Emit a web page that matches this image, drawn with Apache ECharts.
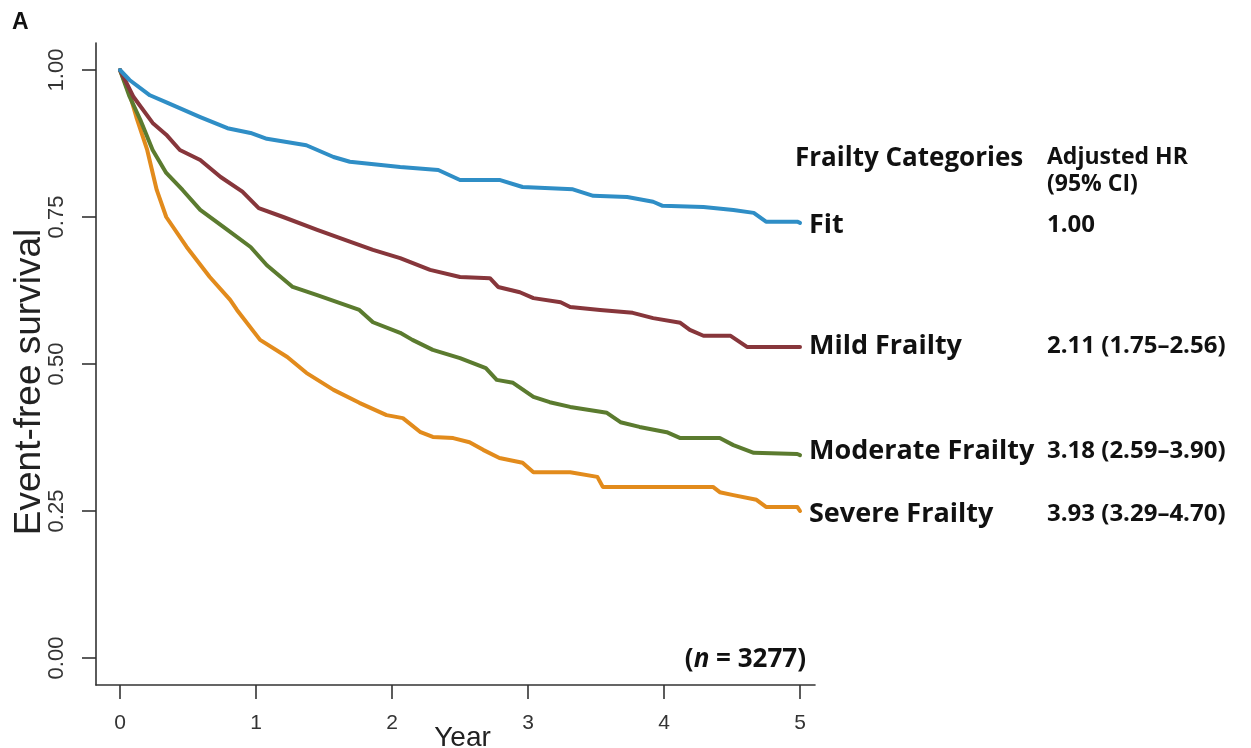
<!DOCTYPE html>
<html>
<head>
<meta charset="utf-8">
<title>Event-free survival by frailty category</title>
<script src="https://cdn.jsdelivr.net/npm/echarts@6.0.0/dist/echarts.min.js"></script>
<style>
  html, body { margin: 0; padding: 0; background: #ffffff; }
  #chart { width: 1251px; height: 748px; }
</style>
</head>
<body>
<div id="chart"></div>
<script>
// Kaplan–Meier estimates (years, survival) per frailty group
const fitYears = [0, 0.07, 0.22, 0.35, 0.59, 0.79, 0.96, 1.08, 1.37, 1.57, 1.69, 2.06, 2.34, 2.5, 2.79, 2.96, 3.33, 3.48, 3.73, 3.92, 3.99, 4.29, 4.51, 4.66, 4.75, 4.98, 5.0];
const fitSurv  = [1, 0.983, 0.957, 0.944, 0.920, 0.901, 0.893, 0.883, 0.872, 0.852, 0.844, 0.835, 0.830, 0.813, 0.813, 0.801, 0.797, 0.786, 0.784, 0.776, 0.769, 0.767, 0.762, 0.757, 0.742, 0.742, 0.740];

const mildYears = [0, 0.1, 0.24, 0.34, 0.44, 0.59, 0.74, 0.9, 1.02, 1.2, 1.45, 1.69, 1.86, 2.06, 2.28, 2.5, 2.72, 2.78, 2.94, 3.04, 3.24, 3.31, 3.53, 3.77, 3.92, 4.12, 4.19, 4.29, 4.49, 4.61, 5.0];
const mildSurv  = [1, 0.954, 0.91, 0.89, 0.864, 0.847, 0.818, 0.793, 0.765, 0.75, 0.728, 0.708, 0.694, 0.68, 0.66, 0.648, 0.646, 0.631, 0.622, 0.612, 0.605, 0.597, 0.592, 0.587, 0.578, 0.57, 0.558, 0.548, 0.548, 0.529, 0.529];

const moderateYears = [0, 0.07, 0.15, 0.24, 0.34, 0.46, 0.59, 0.79, 0.96, 1.08, 1.27, 1.45, 1.76, 1.86, 2.06, 2.15, 2.3, 2.5, 2.69, 2.77, 2.89, 3.04, 3.16, 3.31, 3.58, 3.68, 3.82, 4.02, 4.12, 4.41, 4.51, 4.66, 4.98, 5.0];
const moderateSurv  = [1, 0.955, 0.915, 0.864, 0.825, 0.796, 0.762, 0.728, 0.699, 0.668, 0.631, 0.617, 0.592, 0.571, 0.553, 0.541, 0.524, 0.51, 0.493, 0.473, 0.468, 0.444, 0.435, 0.427, 0.417, 0.401, 0.393, 0.384, 0.374, 0.374, 0.362, 0.349, 0.347, 0.345];

const severeYears = [0, 0.07, 0.12, 0.2, 0.27, 0.34, 0.49, 0.66, 0.81, 0.86, 1.03, 1.23, 1.37, 1.57, 1.76, 1.96, 2.08, 2.21, 2.3, 2.45, 2.57, 2.67, 2.79, 2.96, 3.04, 3.31, 3.51, 3.55, 4.36, 4.41, 4.51, 4.68, 4.75, 4.98, 5.0];
const severeSurv  = [1, 0.96, 0.92, 0.864, 0.796, 0.75, 0.699, 0.648, 0.609, 0.592, 0.541, 0.512, 0.485, 0.456, 0.434, 0.413, 0.408, 0.384, 0.376, 0.374, 0.367, 0.354, 0.34, 0.332, 0.316, 0.316, 0.308, 0.291, 0.291, 0.282, 0.277, 0.269, 0.257, 0.257, 0.25];

const groupNames = ['Fit', 'Mild Frailty', 'Moderate Frailty', 'Severe Frailty'];
const hrLabels   = ['1.00', '2.11 (1.75–2.56)', '3.18 (2.59–3.90)', '3.93 (3.29–4.70)'];
const groupColors = ['#2f8ec6', '#87363b', '#5b7b2f', '#e28b1c'];

const xTicks = [0, 1, 2, 3, 4, 5];
const yTicks = [0, 0.25, 0.5, 0.75, 1];

const groupYears = [fitYears, mildYears, moderateYears, severeYears];
const groupSurv  = [fitSurv, mildSurv, moderateSurv, severeSurv];

// plot frame (pixels): y axis at x=96, x axis at y=685
const plotLeft = 96, plotRight = 815, plotTop = 43, plotBottom = 685;
// x: year 0 at px 120, 136 px per year; y: 1.00 at px 70, 588 px per unit
const xMin = -(120 - plotLeft) / 136;
const xMax = 5 + (plotRight - 800) / 136;
const yMin = -(plotBottom - 658) / 588;
const yMax = 1 + (70 - plotTop) / 588;

const labelFont = '"Open Sans", Lato, sans-serif';
const axisFont = '"Liberation Sans", Arial, sans-serif';
const labelRowsY = [225, 346, 451, 514];

const series = groupNames.map((name, i) => ({
  name: name,
  type: 'line',
  data: groupYears[i].map((t, k) => [t, groupSurv[i][k]]),
  showSymbol: false,
  symbol: 'none',
  lineStyle: { color: groupColors[i], width: 4, join: 'round', cap: 'round' },
  itemStyle: { color: groupColors[i] },
  z: 10 - i,
  animation: false
}));

const graphics = [];
graphics.push({
  type: 'text', left: 12, top: 11,
  style: { text: 'A', font: 'bold 23px ' + axisFont, fill: '#111' }
});
graphics.push({
  type: 'text', x: 795, y: 159,
  style: { text: 'Frailty Categories', font: 'bold 26px ' + labelFont, fill: '#111', verticalAlign: 'middle' }
});
graphics.push({
  type: 'text', x: 1047, y: 157,
  style: { text: 'Adjusted HR', font: 'bold 23px ' + labelFont, fill: '#111', verticalAlign: 'middle' }
});
graphics.push({
  type: 'text', x: 1047, y: 184,
  style: { text: '(95% CI)', font: 'bold 23px ' + labelFont, fill: '#111', verticalAlign: 'middle' }
});
groupNames.forEach((name, i) => {
  graphics.push({
    type: 'text', x: 809, y: labelRowsY[i],
    style: { text: name, font: 'bold 27px ' + labelFont, fill: '#111', verticalAlign: 'middle' }
  });
  graphics.push({
    type: 'text', x: 1047, y: labelRowsY[i],
    style: { text: hrLabels[i], font: 'bold 24px ' + labelFont, fill: '#111', verticalAlign: 'middle' }
  });
});
graphics.push({
  type: 'text', x: 806, y: 660,
  style: {
    text: '{p|(}{i|n}{p| = 3277)}',
    align: 'right', verticalAlign: 'middle',
    rich: {
      p: { font: 'bold 26px ' + labelFont, fill: '#111' },
      i: { font: 'italic bold 26px ' + labelFont, fill: '#111' }
    }
  }
});

const option = {
  backgroundColor: '#ffffff',
  animation: false,
  grid: {
    left: plotLeft, top: plotTop,
    width: plotRight - plotLeft, height: plotBottom - plotTop,
    containLabel: false,
    outerBoundsMode: 'none'
  },
  xAxis: {
    type: 'value',
    min: xMin, max: xMax,
    name: 'Year',
    nameLocation: 'middle',
    nameGap: 39,
    nameMoveOverlap: false,
    nameTextStyle: { fontFamily: axisFont, fontSize: 28, color: '#222', padding: [0, 0, 0, 14] },
    axisLine: { show: true, onZero: false, lineStyle: { color: '#333', width: 1.6 } },
    axisTick: { show: true, inside: false, length: 14, customValues: xTicks, lineStyle: { color: '#333', width: 1.6 } },
    axisLabel: {
      customValues: xTicks, margin: 28,
      fontFamily: axisFont, fontSize: 21, color: '#333',
      formatter: v => String(Math.round(v))
    },
    splitLine: { show: false }
  },
  yAxis: {
    type: 'value',
    min: yMin, max: yMax,
    name: 'Event-free survival',
    nameLocation: 'middle',
    nameRotate: 90,
    nameGap: 48,
    nameMoveOverlap: false,
    nameTextStyle: { fontFamily: axisFont, fontSize: 37, color: '#222', padding: [0, 36, 0, 0] },
    axisLine: { show: true, onZero: false, lineStyle: { color: '#333', width: 1.6 } },
    axisTick: { show: true, inside: false, length: 14, customValues: yTicks, lineStyle: { color: '#333', width: 1.6 } },
    axisLabel: {
      customValues: yTicks, margin: 28, rotate: 90,
      fontFamily: axisFont, fontSize: 22, color: '#333',
      formatter: v => v.toFixed(2)
    },
    splitLine: { show: false }
  },
  series: series,
  graphic: graphics
};

const chart = echarts.init(document.getElementById('chart'), null, { renderer: 'canvas' });
chart.setOption(option);
</script>
</body>
</html>
